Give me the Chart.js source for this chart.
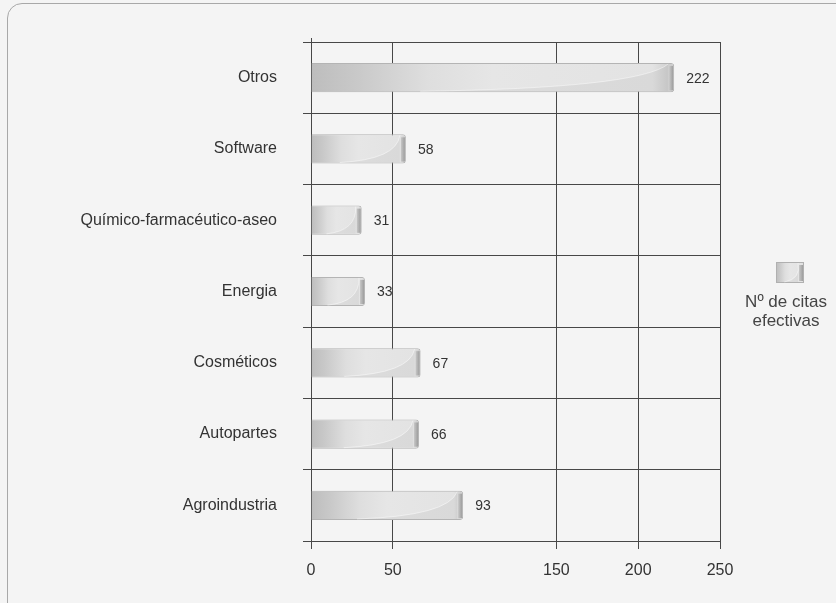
<!DOCTYPE html>
<html lang="es">
<head>
<meta charset="UTF-8">
<title>Nº de citas efectivas</title>
<script src="https://cdn.jsdelivr.net/npm/chart.js"></script>
<style>
  html, body { margin: 0; padding: 0; background: #f4f4f4; overflow: hidden; }
  #frame { position: absolute; left: 7px; top: 3px; width: 900px; height: 700px; border: 1px solid #a8a8a8; border-radius: 15px; }
  #wrap { position: absolute; left: 0; top: 0; width: 836px; height: 603px; }
</style>
</head>
<body>
<div id="frame"></div>
<div id="wrap"><canvas id="citasChart" width="836" height="603"></canvas></div>
<script>
const sectores = ['Otros', 'Software', 'Químico-farmacéutico-aseo', 'Energia', 'Cosméticos', 'Autopartes', 'Agroindustria'];
const citas = [222, 58, 31, 33, 67, 66, 93];
const xTicks = [0, 50, 150, 200, 250]; // el 100 no sale en el original
const leyenda = ['Nº de citas', 'efectivas'];

const FONT = "'Liberation Sans', Arial, sans-serif";
const LINEA = '#474747';

// degradado gris de cada barra, de la base hasta el final
function degradado(ctx, x0, x1) {
    const g = ctx.createLinearGradient(x0, 0, x1, 0);
    g.addColorStop(0, '#bdbdbd');
    g.addColorStop(0.12, '#c8c8c8');
    g.addColorStop(0.32, '#dedede');
    g.addColorStop(0.5, '#e6e6e6');
    g.addColorStop(0.94, '#e3e3e3');
    g.addColorStop(1, '#c9c9c9');
    return g;
}

function rellenoBarra(context) {
    const chart = context.chart;
    if (!chart.chartArea || context.type !== 'data') return '#dcdcdc';
    const x = chart.scales.x;
    return degradado(chart.ctx, x.getPixelForValue(0), x.getPixelForValue(context.raw));
}

// curva suave y remate del extremo, como en el dibujo original
function adorno(ctx, x0, x1, top, bot) {
    const w = x1 - x0;
    ctx.save();
    ctx.beginPath();
    ctx.moveTo(x0 + w * 0.3, bot - 1);
    ctx.quadraticCurveTo(x1 - w * 0.1, bot - 4, x1 - 6, top + 1);
    ctx.lineTo(x1 - 6, bot - 1);
    ctx.closePath();
    ctx.fillStyle = 'rgba(0,0,0,0.045)';
    ctx.fill();
    ctx.beginPath();
    ctx.moveTo(x0 + w * 0.3, bot - 1);
    ctx.quadraticCurveTo(x1 - w * 0.1, bot - 4, x1 - 6, top + 1);
    ctx.strokeStyle = 'rgba(255,255,255,0.45)';
    ctx.lineWidth = 1;
    ctx.stroke();
    const cap = ctx.createLinearGradient(x1 - 6, 0, x1, 0);
    cap.addColorStop(0, '#d2d2d2');
    cap.addColorStop(1, '#939393');
    ctx.fillStyle = cap;
    ctx.fillRect(x1 - 5, top + 3, 4, bot - top - 5);
    ctx.restore();
}

const extras = {
    id: 'extras',
    afterDatasetsDraw(chart) {
        const ctx = chart.ctx;
        const area = chart.chartArea;
        // el eje vertical sobresale un poco por arriba
        ctx.save();
        ctx.strokeStyle = LINEA;
        ctx.beginPath();
        ctx.moveTo(Math.round(area.left) + 0.5, area.top - 4);
        ctx.lineTo(Math.round(area.left) + 0.5, area.top);
        ctx.stroke();
        ctx.restore();

        chart.getDatasetMeta(0).data.forEach((bar, i) => {
            const top = bar.y - bar.height / 2, bot = bar.y + bar.height / 2;
            adorno(ctx, bar.base, bar.x, top, bot);
            ctx.save();
            ctx.font = '14px ' + FONT;
            ctx.fillStyle = '#333';
            ctx.textBaseline = 'middle';
            ctx.fillText(citas[i], bar.x + 12, bar.y + 1);
            ctx.restore();
        });

        // leyenda a la derecha
        const lx = 776, ly = 262, lw = 28, lh = 21;
        ctx.save();
        ctx.fillStyle = degradado(ctx, lx, lx + lw);
        ctx.fillRect(lx, ly, lw, lh);
        ctx.strokeStyle = '#b0b0b0';
        ctx.strokeRect(lx + 0.5, ly + 0.5, lw - 1, lh - 1);
        adorno(ctx, lx, lx + lw, ly, ly + lh);
        ctx.font = '17px ' + FONT;
        ctx.fillStyle = '#444';
        ctx.textAlign = 'center';
        ctx.textBaseline = 'middle';
        leyenda.forEach((t, k) => ctx.fillText(t, 786, 302 + k * 19));
        ctx.restore();
    }
};

new Chart(document.getElementById('citasChart'), {
    type: 'bar',
    data: {
        labels: sectores,
        datasets: [{
            label: leyenda.join(' '),
            data: citas,
            backgroundColor: rellenoBarra,
            borderColor: '#b4b4b4',
            borderWidth: 1,
            borderRadius: 3,
            borderSkipped: 'start',
            barPercentage: 0.41,
            categoryPercentage: 1
        }]
    },
    options: {
        indexAxis: 'y',
        responsive: false,
        animation: false,
        layout: { padding: { top: 42, right: 116, left: 0, bottom: 0 } },
        plugins: { legend: { display: false }, tooltip: { enabled: false } },
        scales: {
            x: {
                min: 0,
                max: 250,
                ticks: {
                    stepSize: 50,
                    padding: 12,
                    color: '#333',
                    font: { family: FONT, size: 16 },
                    callback: v => xTicks.includes(v) ? v : ''
                },
                grid: {
                    color: c => xTicks.includes(c.tick.value) ? LINEA : 'rgba(0,0,0,0)',
                    tickLength: 8,
                    lineWidth: 1
                },
                border: { color: LINEA },
                afterFit: s => { s.height = 62; }
            },
            y: {
                ticks: {
                    padding: 26,
                    color: '#333',
                    font: { family: FONT, size: 16 }
                },
                grid: { color: LINEA, tickLength: 8, offset: true },
                border: { color: LINEA },
                afterFit: s => { s.width = 311; }
            }
        }
    },
    plugins: [extras]
});
</script>
</body>
</html>
